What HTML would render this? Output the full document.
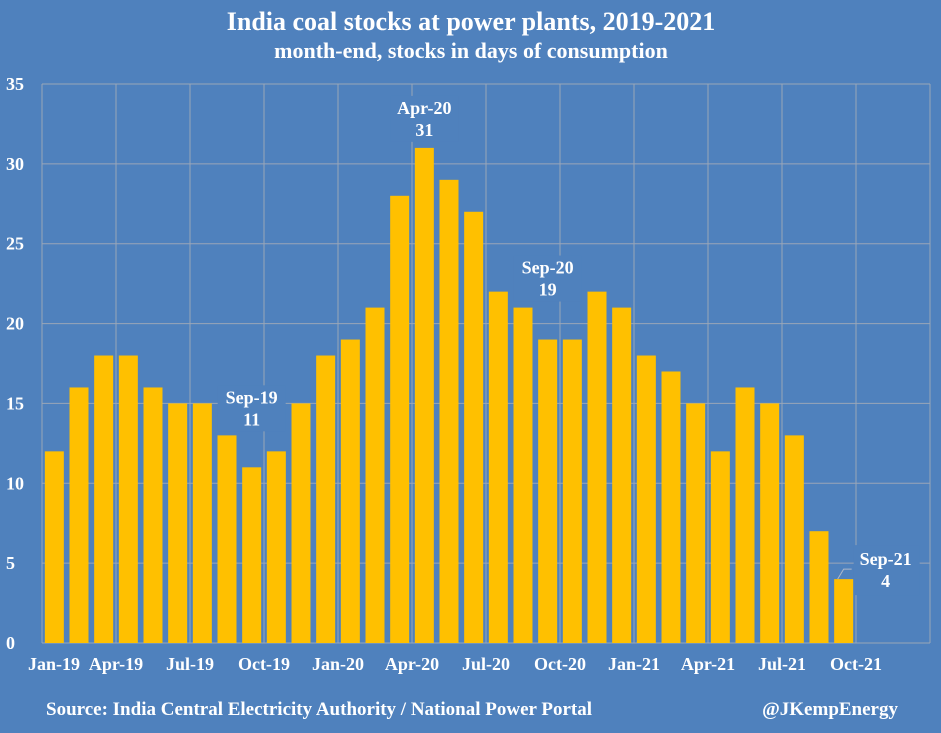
<!DOCTYPE html>
<html><head><meta charset="utf-8"><style>
body{margin:0;background:#4f81bd;}
svg{display:block;font-family:"Liberation Serif",serif;font-weight:bold;fill:#fff;}
</style></head><body>
<svg id="c" width="941" height="733">
<rect width="941" height="733" fill="#4f81bd"/>
<text x="471" y="30" text-anchor="middle" font-size="26">India coal stocks at power plants, 2019-2021</text>
<text x="471" y="58" text-anchor="middle" font-size="22">month-end, stocks in days of consumption</text>
<g id="grid"></g><g id="bars"></g><g id="ax"></g><g id="ann"></g>
<text x="46" y="715" font-size="19">Source: India Central Electricity Authority / National Power Portal</text>
<text x="898" y="715" text-anchor="end" font-size="19">@JKempEnergy</text>
</svg>
<script>
const months=["Jan-19","Feb-19","Mar-19","Apr-19","May-19","Jun-19","Jul-19","Aug-19","Sep-19","Oct-19","Nov-19","Dec-19","Jan-20","Feb-20","Mar-20","Apr-20","May-20","Jun-20","Jul-20","Aug-20","Sep-20","Oct-20","Nov-20","Dec-20","Jan-21","Feb-21","Mar-21","Apr-21","May-21","Jun-21","Jul-21","Aug-21","Sep-21"];
const stocks=[12,16,18,18,16,15,15,13,11,12,15,18,19,21,28,31,29,27,22,21,19,19,22,21,18,17,15,12,16,15,13,7,4];
const xLabels=["Jan-19","Apr-19","Jul-19","Oct-19","Jan-20","Apr-20","Jul-20","Oct-20","Jan-21","Apr-21","Jul-21","Oct-21"];
const yTicks=[0,5,10,15,20,25,30,35];
const L=42,R=930,T=84,B=643,N=36,W=(R-L)/N,YMAX=35;
const X=i=>L+i*W, Y=v=>B-(B-T)*v/YMAX;
const ns="http://www.w3.org/2000/svg";
function mk(t,a,p,txt){const e=document.createElementNS(ns,t);for(const k in a)e.setAttribute(k,a[k]);if(txt!=null)e.textContent=txt;document.getElementById(p).appendChild(e);return e;}
yTicks.forEach(v=>{
 const l=mk("line",{x1:L,x2:R,y1:Y(v),y2:Y(v),stroke:"#9aa6b8","stroke-width":1},"grid");
 
 
 const t=mk("text",{x:6,y:Y(v)+6,"font-size":18},"ax",v);
 
 
});
xLabels.forEach((s,i)=>{
 const x=X(i*3);
 const l=mk("line",{x1:x,x2:x,y1:T,y2:B,stroke:"#9aa6b8","stroke-width":1},"grid");
 
 
 const t=mk("text",{x:Math.max(x,54),y:670,"text-anchor":"middle","font-size":18},"ax",s);
 
 
});
mk("line",{x1:R,x2:R,y1:T,y2:B,stroke:"#9aa6b8"},"grid");
stocks.forEach((v,i)=>{
 const b=mk("rect",{x:X(i)+W/2-9.5,y:Y(v),width:19,height:B-Y(v),fill:"#ffc000"},"bars");
 
 
});
const annIdx=[8,15,20];
const annOff=[64,34,66];
annIdx.forEach((i,k)=>{
 const x=X(i)+W/2,y=Y(stocks[i]),o=annOff[k];
 const bg=mk("rect",{x:x-34,y:y-o-18,width:68,height:46,fill:"#4f81bd"},"ann");
 
 
 const a=mk("text",{x:x,y:y-o,"text-anchor":"middle","font-size":18},"ann",months[i]);
 
 
 const b=mk("text",{x:x,y:y-o+22,"text-anchor":"middle","font-size":18},"ann",stocks[i]);
 
 
});
const li=32,lx=X(li)+W/2,ly=Y(stocks[li]);
const ld=mk("polyline",{points:`${lx-6},${ly} ${lx},${ly-10} ${lx+8},${ly-10}`,fill:"none",stroke:"#b0b8c8"},"ann");


const bg2=mk("rect",{x:lx+10,y:ly-34,width:66,height:50,fill:"#4f81bd"},"ann");


const s1=mk("text",{x:lx+42,y:ly-14,"text-anchor":"middle","font-size":18},"ann",months[li]);


const s2=mk("text",{x:lx+42,y:ly+8,"text-anchor":"middle","font-size":18},"ann",stocks[li]);


</script>
</body></html>
